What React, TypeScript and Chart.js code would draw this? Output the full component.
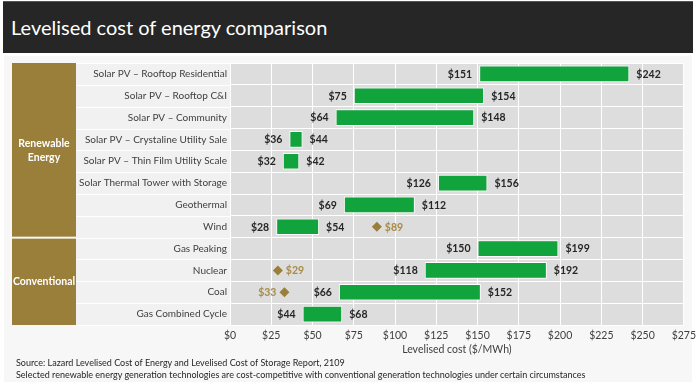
import React, { useEffect, useRef } from 'react';
import { Chart, registerables } from 'chart.js';

Chart.register(...registerables);

const categories = [
  'Solar PV – Rooftop Residential',
  'Solar PV – Rooftop C&I',
  'Solar PV – Community',
  'Solar PV – Crystaline Utility Sale',
  'Solar PV – Thin Film Utility Scale',
  'Solar Thermal Tower with Storage',
  'Geothermal',
  'Wind',
  'Gas Peaking',
  'Nuclear',
  'Coal',
  'Gas Combined Cycle',
];
const lowCost = [151, 75, 64, 36, 32, 126, 69, 28, 150, 118, 66, 44];
const highCost = [242, 154, 148, 44, 42, 156, 112, 54, 199, 192, 152, 68];
const markerCost: (number | null)[] = [null, null, null, null, null, null, null, 89, null, 29, 33, null];
const markerLabelSide = ['', '', '', '', '', '', '', 'right', '', 'right', 'left', ''];
const groupNames = ['Renewable\nEnergy', 'Conventional'];
const groupFirst = [0, 8];
const groupLast = [7, 11];
const xMin = 0;
const xMax = 275;
const xStep = 25;

const TITLE = 'Levelised cost of energy comparison';
const AXIS_TITLE = 'Levelised cost ($/MWh)';
const NOTE1 = 'Source: Lazard Levelised Cost of Energy and Levelised Cost of Storage Report, 2109';
const NOTE2 = 'Selected renewable energy generation technologies are cost-competitive with conventional generation technologies under certain circumstances';

const FONT = 'Lato, "Open Sans", sans-serif';
const GREEN = '#11a43d';
const GOLD = '#9a7f3b';
const GOLD_TEXT = '#a88c45';

const backdrop = {
  id: 'backdrop',
  beforeDraw(chart: any) {
    const { ctx, chartArea, scales } = chart;
    const y = scales.y;
    const labelLeft = 76;
    const goldLeft = 12;
    ctx.save();
    ctx.fillStyle = '#dddddd';
    ctx.fillRect(chartArea.left, chartArea.top, chartArea.right - chartArea.left, chartArea.bottom - chartArea.top);
    ctx.fillStyle = '#f1f1f1';
    ctx.fillRect(labelLeft, chartArea.top, chartArea.left - labelLeft, chartArea.bottom - chartArea.top);
    const half = (y.getPixelForValue(1) - y.getPixelForValue(0)) / 2;
    ctx.strokeStyle = '#ffffff';
    ctx.lineWidth = 1;
    for (let i = 0; i <= categories.length; i++) {
      const yy = Math.round(y.getPixelForValue(i) - half) + 0.5;
      ctx.beginPath();
      ctx.moveTo(labelLeft, yy);
      ctx.lineTo(chartArea.left, yy);
      ctx.stroke();
    }
    for (let g = 0; g < groupNames.length; g++) {
      const top = y.getPixelForValue(groupFirst[g]) - half;
      const bottom = y.getPixelForValue(groupLast[g]) + half;
      ctx.fillStyle = GOLD;
      ctx.fillRect(goldLeft, top + (g > 0 ? 1 : 0), labelLeft - goldLeft, bottom - top - (g > 0 ? 1 : 0) - (g < groupNames.length - 1 ? 1 : 0));
      const lines = groupNames[g].split('\n');
      ctx.fillStyle = '#ffffff';
      ctx.font = 'bold 10.5px ' + FONT;
      ctx.textAlign = 'center';
      ctx.textBaseline = 'middle';
      const cy = (top + bottom) / 2;
      const lh = 14;
      lines.forEach((ln, k) => {
        ctx.fillText(ln, (goldLeft + labelLeft) / 2, cy + (k - (lines.length - 1) / 2) * lh);
      });
    }
    ctx.restore();
  },
};

const valueLabels = {
  id: 'valueLabels',
  afterDatasetsDraw(chart: any) {
    const { ctx, scales } = chart;
    const x = scales.x;
    const y = scales.y;
    ctx.save();
    ctx.textBaseline = 'middle';
    ctx.font = 'bold 10.5px ' + FONT;
    ctx.fillStyle = '#262626';
    for (let i = 0; i < categories.length; i++) {
      const yc = y.getPixelForValue(i) + 0.5;
      ctx.textAlign = 'right';
      ctx.fillText('$' + lowCost[i], x.getPixelForValue(lowCost[i]) - 7, yc);
      ctx.textAlign = 'left';
      ctx.fillText('$' + highCost[i], x.getPixelForValue(highCost[i]) + 7, yc);
    }
    ctx.fillStyle = GOLD_TEXT;
    for (let i = 0; i < categories.length; i++) {
      const m = markerCost[i];
      if (m == null) continue;
      const yc = y.getPixelForValue(i) + 0.5;
      const xm = x.getPixelForValue(m);
      if (markerLabelSide[i] === 'left') {
        ctx.textAlign = 'right';
        ctx.fillText('$' + m, xm - 8, yc);
      } else {
        ctx.textAlign = 'left';
        ctx.fillText('$' + m, xm + 8, yc);
      }
    }
    ctx.restore();
  },
};

export default function App() {
  const canvasRef = useRef<HTMLCanvasElement | null>(null);

  useEffect(() => {
    document.body.style.margin = '0';
    const canvas = canvasRef.current;
    if (!canvas) return;
    const chart = new Chart(canvas, {
      type: 'bar',
      data: {
        labels: categories,
        datasets: [
          {
            type: 'line',
            label: 'Marker',
            data: markerCost as any,
            showLine: false,
            pointStyle: 'rectRot',
            pointRadius: 5,
            pointBackgroundColor: GOLD,
            pointBorderWidth: 0,
            borderColor: GOLD,
          } as any,
          {
            type: 'bar',
            label: 'Range',
            data: lowCost.map((v, i) => [v, highCost[i]]) as any,
            backgroundColor: GREEN,
            borderColor: '#ffffff',
            borderWidth: 1,
            borderSkipped: false,
            barPercentage: 0.76,
            categoryPercentage: 1,
          } as any,
        ],
      },
      options: {
        indexAxis: 'y',
        animation: false,
        responsive: false,
        maintainAspectRatio: false,
        devicePixelRatio: 1,
        layout: { padding: { left: 0, top: 63, right: 13, bottom: 29 } },
        plugins: {
          legend: { display: false },
          tooltip: { enabled: false },
        },
        scales: {
          x: {
            type: 'linear',
            min: xMin,
            max: xMax,
            ticks: {
              stepSize: xStep,
              callback: (v: any) => '$' + v,
              font: { family: FONT, size: 10.5 },
              color: '#404040',
              padding: 4,
            },
            grid: { color: '#ffffff', lineWidth: 1, drawTicks: false },
            border: { display: false },
            title: {
              display: true,
              text: AXIS_TITLE,
              font: { family: FONT, size: 10.5 },
              color: '#404040',
              padding: { top: 0, bottom: 1 },
            },
            afterFit: (scale: any) => {
              scale.height = 32;
            },
          },
          y: {
            type: 'category',
            ticks: {
              font: { family: FONT, size: 10 },
              color: '#404040',
              padding: 3,
            },
            grid: { color: '#ffffff', lineWidth: 1, drawTicks: false },
            border: { display: false },
            afterFit: (scale: any) => {
              scale.width = 230;
            },
          },
        },
      } as any,
      plugins: [backdrop, valueLabels],
    });
    return () => chart.destroy();
  }, []);

  return (
    <div style={{ position: 'relative', width: 700, height: 386, background: '#ffffff', overflow: 'hidden' }}>
      <div
        style={{
          position: 'absolute',
          left: 3,
          top: 1,
          width: 690,
          height: 52,
          background: '#262626',
          borderTop: '1px solid #555',
          boxSizing: 'border-box',
          color: '#ffffff',
          fontFamily: FONT,
          fontSize: 20,
          lineHeight: '51px',
          paddingLeft: 8,
        }}
      >
        {TITLE}
      </div>
      <div style={{ position: 'absolute', left: 4, top: 56, width: 688, height: 326, background: '#f7f7f7' }} />
      <canvas ref={canvasRef} width={700} height={386} style={{ position: 'absolute', left: 0, top: 0, width: 700, height: 386 }} />
      <div style={{ position: 'absolute', left: 16, top: 357, fontFamily: FONT, fontSize: 9, color: '#262626', whiteSpace: 'nowrap', lineHeight: '12px' }}>
        {NOTE1}
      </div>
      <div style={{ position: 'absolute', left: 16, top: 369, fontFamily: FONT, fontSize: 9, color: '#262626', whiteSpace: 'nowrap', lineHeight: '12px' }}>
        {NOTE2}
      </div>
    </div>
  );
}
